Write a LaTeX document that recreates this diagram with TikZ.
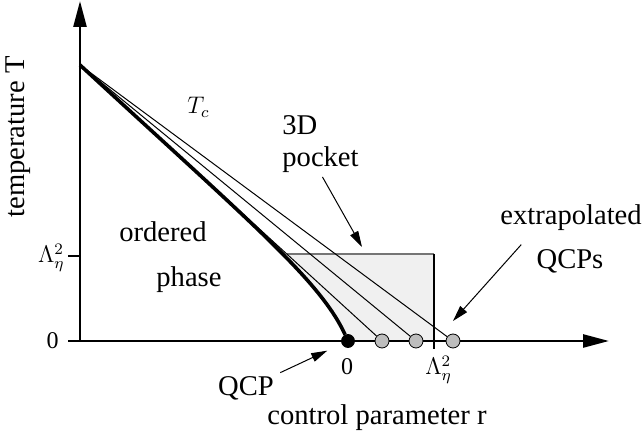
\documentclass[tikz,border=0pt]{standalone}
\usepackage{fontspec}
\setmainfont{Liberation Serif}
\usetikzlibrary{arrows.meta}
\definecolor{PhDot}{HTML}{BDBDBD}
\definecolor{PhPocket}{HTML}{F0F0F0}
\definecolor{PhEdge}{HTML}{757575}
\tikzset{
  phaxis/.style={line width=1.3pt,-{Triangle[length=13pt,width=6.5pt]}},
  phtick/.style={line width=0.6pt},
  phedge/.style={line width=0.9pt,draw=PhEdge},
  phtc/.style={line width=1.8pt},
  phfit/.style={line width=0.5pt},
  phqcp/.style={circle,fill=black,draw=black,inner sep=0pt,minimum size=6.5pt},
  phxqcp/.style={circle,fill=PhDot,draw=black,line width=0.4pt,inner sep=0pt,minimum size=7pt},
  phpointer/.style={line width=0.5pt,-{Triangle[length=8pt,width=4.5pt]}},
  phtext/.style={font=\fontsize{14.3}{16}\selectfont,inner sep=0pt},
  phaxislabel/.style={font=\fontsize{12}{14}\selectfont,inner sep=0pt}
}
\begin{document}
\begin{tikzpicture}[x=0.5pt,y=-0.5pt]
  \useasboundingbox (0,0) rectangle (644,438);
  \coordinate (tstart) at (80,65);
  \coordinate (rzero) at (348,341);
  \coordinate (pockettip) at (362,247);
  \coordinate (xtip) at (453,321);
  % 3D pocket
  \begin{scope}
    \clip (tstart) .. controls (250,222) and (320,280) .. (rzero) -- (640,341) -- (640,0) -- (80,0) -- cycle;
    \fill[PhPocket] (200,254) rectangle (434,341);
  \end{scope}
  \draw[phedge] (287,254) -- (434,254);
  \draw[phtick] (434,254) -- (434,349);
  \draw[line width=1pt] (68,256) -- (80,256);
  % axes
  \draw[phaxis] (68,341) -- (609,341);
  \draw[phaxis] (80,341) -- (80,1);
  % critical points
  \node[phqcp] (qcp) at (rzero) {};
  \node[phxqcp] (xqcpa) at (382,341) {};
  \node[phxqcp] (xqcpb) at (416,341) {};
  \node[phxqcp] (xqcpc) at (453,341) {};
  \draw[phtc] (tstart) .. controls (250,222) and (320,280) .. (qcp);
  \draw[phfit] (tstart) -- (xqcpa);
  \draw[phfit] (tstart) -- (xqcpb);
  \draw[phfit] (tstart) -- (xqcpc);
  % labels
  \node[phaxislabel,anchor=east] (yzero) at (59,341) {0};
  \node[phaxislabel,anchor=base east] (ylam) at (65,263) {$\Lambda_\eta^2$};
  \node[phaxislabel,anchor=base] (xzero) at (347,375) {0};
  \node[phaxislabel,anchor=base west] (xlam) at (425,375) {$\Lambda_\eta^2$};
  \node[phaxislabel,anchor=base west] (tc) at (187,114) {$T_c$};
  \node[phtext,rotate=90,anchor=base] (ylabel) at (25,137) {temperature T};
  \node[phtext,anchor=base] (xlabel) at (377,425) {control parameter r};
  \node[phtext,anchor=base] (ordered) at (163,242) {ordered};
  \node[phtext,anchor=base] (phase) at (189,287) {phase};
  \node[phtext,anchor=base west] (threed) at (282,135) {3D};
  \node[phtext,anchor=base west] (pocketlbl) at (282,167) {pocket};
  \node[phtext,anchor=base] (extrap) at (571,225) {extrapolated};
  \node[phtext,anchor=base] (qcps) at (570,269) {QCPs};
  \node[phtext,anchor=base] (qcplbl) at (246,396) {QCP};
  % pointers
  \draw[phpointer,shorten <=2pt] (pocketlbl.south) -- (pockettip);
  \draw[phpointer] ([xshift=-7.5pt,yshift=2.5pt]qcps.north west) -- (xtip);
  \draw[phpointer,shorten >=8pt] ([xshift=3pt,yshift=2pt]qcplbl.north east) -- (qcp);
\end{tikzpicture}
\end{document}
